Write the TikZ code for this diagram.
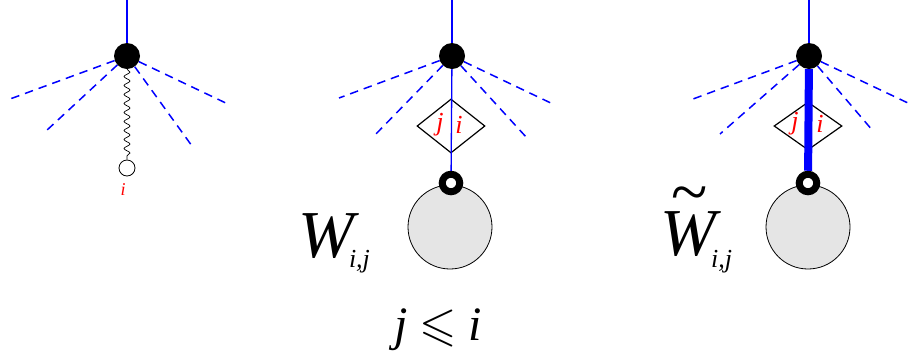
\documentclass[tikz,border=0pt]{standalone}
\usepackage{fontspec}
\setmainfont{Liberation Serif}
\usepackage{amssymb}
\usepackage{graphicx}
\usetikzlibrary{decorations.pathmorphing,shapes.geometric}
\begin{document}
\begin{tikzpicture}[x=1pt,y=-1pt,
 vtx/.style={circle,fill=black,inner sep=0pt,minimum size=26pt},
 ext/.style={blue,line width=1.5pt,dash pattern=on 8.5pt off 6pt},
 stem/.style={blue,line width=1.3pt},
 thickstem/.style={blue,line width=8pt},
 ring/.style={circle,draw=black,fill=white,line width=7pt,inner sep=0pt,minimum size=17.5pt},
 blob/.style={circle,draw=black,fill=black!10,line width=0.8pt,inner sep=0pt,minimum size=84pt},
 dia/.style={diamond,draw=black,line width=1.2pt,inner sep=0pt,minimum width=68pt,minimum height=54pt},
 redlab/.style={text=red,inner sep=0pt,font=\fontsize{26}{26}\selectfont\itshape},
 biglab/.style={inner sep=0pt,anchor=base west,font=\fontsize{67}{67}\selectfont\itshape}]
\useasboundingbox (0,0) rectangle (909,360);

% ---------- panel 1
\node[vtx] (v1) at (127,56) {};
\coordinate (t1) at (127,0);
\coordinate (a1) at (10,99);
\coordinate (b1) at (46,131);
\coordinate (c1) at (230,105);
\coordinate (d1) at (192,146);
\draw[stem] (t1) -- (v1);
\draw[ext] (v1) -- (a1);
\draw[ext] (v1) -- (b1);
\draw[ext] (v1) -- (c1);
\draw[ext] (v1) -- (d1);
\node[circle,draw=black,fill=white,line width=0.8pt,minimum size=16pt,inner sep=0pt] (o1) at (127,168) {};
\draw[line width=0.7pt,decorate,decoration={snake,amplitude=3pt,segment length=9pt}] (v1) -- (o1);
\node[text=red,inner sep=0pt,font=\fontsize{18}{18}\selectfont\itshape] (l1) at (123,190) {i};

% ---------- panel 2
\node[vtx] (v2) at (452,56) {};
\coordinate (t2) at (452,0);
\coordinate (a2) at (339,98);
\coordinate (b2) at (372,138);
\coordinate (c2) at (555,105);
\coordinate (d2) at (527,138);
\draw[stem] (t2) -- (v2);
\draw[ext] (v2) -- (a2);
\draw[ext] (v2) -- (b2);
\draw[ext] (v2) -- (c2);
\draw[ext] (v2) -- (d2);
\node[dia] (m2) at (451,126) {};
\node[blob] (g2) at (450,227) {};
\node[ring] (r2) at (451,183) {};
\draw[stem] (v2) -- (r2);
\node[redlab] (j2) at (440,125) {j};
\node[redlab] (i2) at (459,125) {i};
\node[biglab] (w2) at (298,257)
  {W\kern-5pt\raisebox{-10pt}{\fontsize{26}{26}\selectfont i,j}};
\node[inner sep=0pt,anchor=base,font=\fontsize{48}{48}\selectfont] (rel) at (438,340)
  {\textit{j} \raisebox{0pt}{\fontsize{24}{24}\selectfont\scalebox{2}{$\leqslant$}} \textit{i}};

% ---------- panel 3
\node[vtx] (v3) at (809,56) {};
\coordinate (t3) at (809,0);
\coordinate (a3) at (693,99);
\coordinate (b3) at (720,134);
\coordinate (c3) at (908,103);
\coordinate (d3) at (873,131);
\draw[stem] (t3) -- (v3);
\draw[ext] (v3) -- (a3);
\draw[ext] (v3) -- (b3);
\draw[ext] (v3) -- (c3);
\draw[ext] (v3) -- (d3);
\node[dia,minimum height=48pt] (m3) at (808,126) {};
\node[blob] (g3) at (808,227) {};
\node[ring] (r3) at (808,183) {};
\draw[thickstem] (v3) -- (r3);
\node[redlab] (j3) at (795,124) {j};
\node[redlab] (i3) at (820,124) {i};
\node[biglab] (w3) at (660,255)
  {\makebox[0pt][l]{\hspace{11pt}\raisebox{41pt}{\upshape\textasciitilde}}W\kern-5pt\raisebox{-12pt}{\fontsize{26}{26}\selectfont i,j}};
\end{tikzpicture}
\end{document}
